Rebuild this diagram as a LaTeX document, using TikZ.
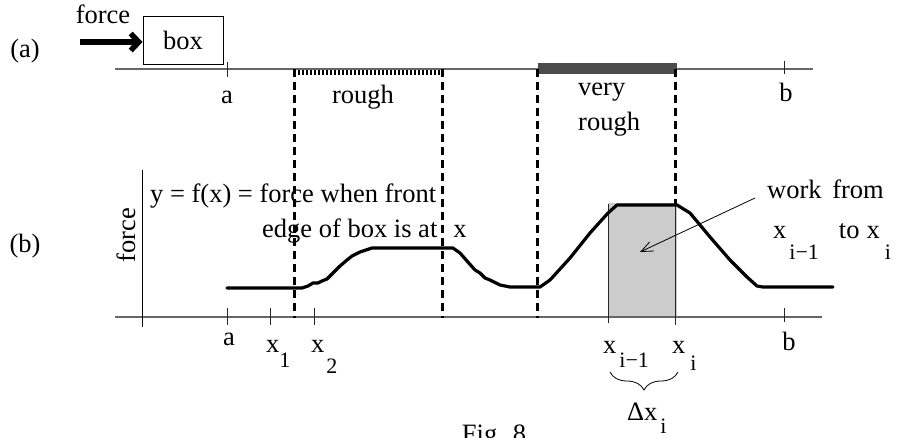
\documentclass[tikz,border=0pt]{standalone}
\usepackage{fontspec}
\setmainfont{Liberation Serif}
\usetikzlibrary{arrows.meta,decorations.pathreplacing}
\newcommand{\lowsub}[2]{\raisebox{-#1pt}{\fontsize{22}{22}\selectfont #2}}
\begin{document}
\begin{tikzpicture}[x=1pt,y=-1pt,
  lbl/.style={font=\fontsize{26.5}{30}\selectfont, inner sep=0pt, anchor=base},
  lblw/.style={lbl, anchor=base west},
  axisline/.style={line width=1.6pt, draw=black!60},
  tickline/.style={line width=0.9pt, draw=black!85},
  boundary/.style={line width=3pt, dash pattern=on 8pt off 5pt},
  curveline/.style={line width=3.2pt, line join=round, line cap=round},
  boxnode/.style={draw, line width=1pt, minimum width=80pt, minimum height=48pt, inner sep=0pt, font=\fontsize{26.5}{30}\selectfont},
]
\useasboundingbox (0,0) rectangle (908,437);

% ---------- part (a) ----------
\node[lbl] (la) at (25,57) {(a)};
\node[lbl] (forcetxt) at (103,23) {force};
\node[boxnode] (box) at (183,40) {\raisebox{-3pt}{box}};
\coordinate (fstart) at (80,42);
\draw[line width=5.5pt, -{Straight Barb[length=8pt,width=17pt]}] (fstart) -- (fstart -| box.west);

\draw[axisline] (115,69) -- (813,69);
\draw[tickline] (227,62) -- (227,77);
\draw[tickline] (784,61) -- (784,74);
\node[lbl] (ta) at (227,103) {a};
\node[lbl] (tb) at (786,101) {b};

% rough surface
\draw[line width=5pt, dash pattern=on 2pt off 2pt] (294,72) -- (442,72);
\node[lbl] (rough) at (363,103) {rough};
% very rough surface
\fill[black!70] (538,63) rectangle (677,74);
\node[lblw] (very) at (578,95) {very};
\node[lblw] (vrough) at (578,130) {rough};

% ---------- part (b) ----------
\node[lbl] (lb) at (25,252) {(b)};
\node[lbl, rotate=90] (forceax) at (135,235) {force};

\fill[black!20] (608,203) rectangle (677,317);

\draw[axisline] (115,317) -- (822,317);
\draw[line width=1pt] (142,170) -- (142,327);
\draw[tickline] (227,308) -- (227,325);
\draw[tickline] (270,308) -- (270,325);
\draw[tickline] (314,308) -- (314,325);
\draw[tickline] (784,308) -- (784,322);
\draw[tickline] (608,204) -- (608,323);
\draw[tickline] (675,204) -- (675,325);

\draw[curveline] (227,288) -- (302,288) -- (308,286) -- (313,283) -- (318,283)
  -- (322,281) -- (327,279) -- (333,273) -- (340,266) -- (347,260) -- (352,256)
  -- (360,252) -- (372,248) -- (453,248) -- (460,253) -- (467,261) -- (475,270)
  -- (480,273) -- (485,278) -- (490,280) -- (500,285) -- (510,287) -- (540,287)
  -- (550,280) -- (570,258) -- (590,233) -- (608,213) -- (617,205) -- (677,205)
  -- (690,213) -- (710,237) -- (730,260) -- (747,277) -- (757,286) -- (763,287)
  -- (833,287);

\draw[boundary] (294,69) -- (294,318);
\draw[boundary] (442,69) -- (442,318);
\draw[boundary] (537,69) -- (537,318);
\draw[boundary] (675,69) -- (675,205);

\node[lblw] (fdef1) at (150,202) {y = f(x) = force when front};
\node[lblw] (fdef2) at (262,237) {edge of box is at\hspace{16pt}x};

\node[lblw] (work) at (767,198) {work\hspace{4pt} from};
\node[lblw] (workrange) at (773,238) {x\hspace{3pt}\lowsub{21}{i−1}\hspace{20pt}to\hspace{7pt}x\hspace{5pt}\lowsub{21}{i}};
\coordinate (wstart) at (755,198);
\coordinate (wend) at (640,252);
\draw[line width=0.8pt, -{Straight Barb[length=12pt,width=10pt]}] (wstart) -- (wend);

% axis labels (b)
\node[lbl] (ba) at (229,345) {a};
\node[lblw] (x1) at (266,352) {x\lowsub{15}{1}};
\node[lblw] (x2) at (311,352) {x\hspace{2pt}\lowsub{21}{2}};
\node[lblw] (xim1) at (603,353) {x\hspace{3pt}\lowsub{14}{i−1}};
\node[lblw] (xi) at (672,353) {x\hspace{5pt}\lowsub{17}{i}};
\node[lbl] (bb) at (789,350) {b};

\draw[line width=0.8pt, decorate, decoration={brace, mirror, amplitude=18pt}] (610,372) -- (678,372);
\node[lblw] (dx) at (627,420) {Δx\hspace{3pt}\lowsub{13}{i}};

\node[lbl] (fig) at (494,442) {Fig. 8};
\end{tikzpicture}
\end{document}
